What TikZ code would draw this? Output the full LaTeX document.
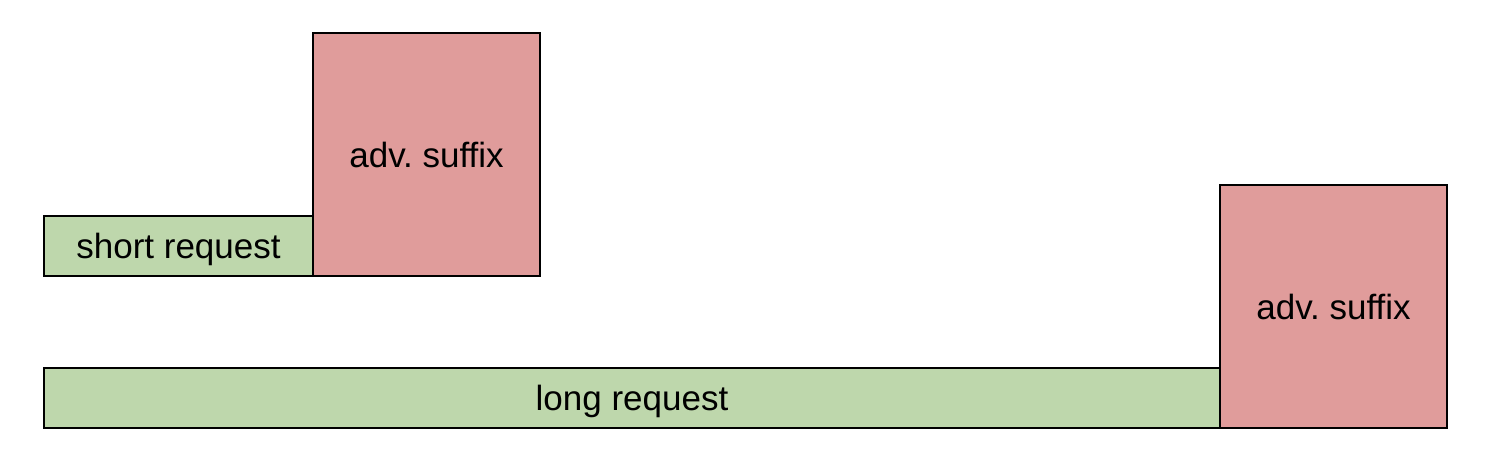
\documentclass[tikz,border=0pt]{standalone}
\usepackage{fontspec}
\setmainfont{Liberation Sans}
\definecolor{reqgreen}{RGB}{190,215,172}
\definecolor{sufred}{RGB}{224,156,155}
\tikzset{
Req/.style={draw=black, fill=reqgreen, rectangle, inner sep=0pt, outer sep=0pt, text depth=0pt,
        minimum height=60pt, line width=1.5pt, font=\fontsize{35}{40}\selectfont},
Suffix/.style={draw=black, fill=sufred, rectangle, inner sep=0pt, outer sep=0pt, text depth=0pt,
        minimum width=227pt, minimum height=243pt, line width=1.5pt, font=\fontsize{35}{40}\selectfont},
}
\begin{document}
\begin{tikzpicture}[x=1pt,y=-1pt]
	\useasboundingbox (0,0) rectangle (1498,468);
	% short request with its suffix
	\node[Req, minimum width=269pt, anchor=south west] (Short) at (44,276) {short request};
	\node[Suffix, anchor=south west] (Suffix1) at (Short.south east) {adv.\ suffix};
	% long request with its suffix
	\node[Req, minimum width=1176pt, anchor=south west] (Long) at (44,428) {long request};
	\node[Suffix, anchor=south west] (Suffix2) at (Long.south east) {adv.\ suffix};
\end{tikzpicture}
\end{document}
